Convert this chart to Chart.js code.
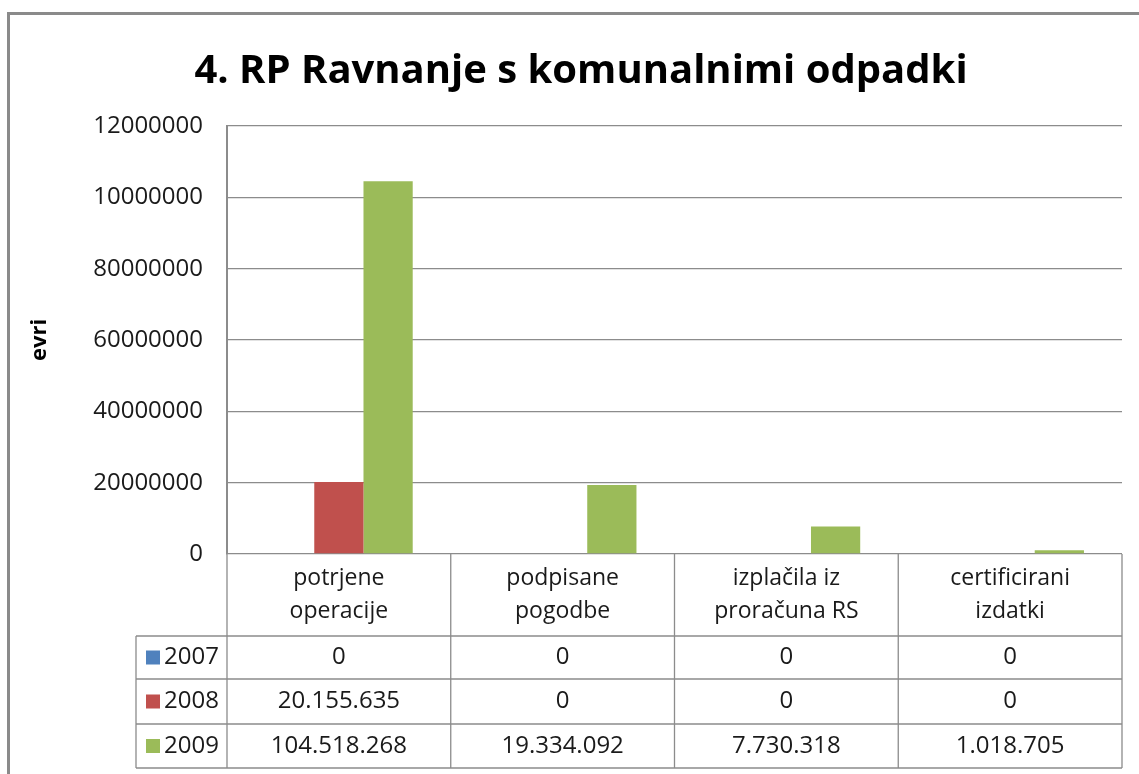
<!DOCTYPE html>
<html>
<head>
<meta charset="utf-8">
<script src="https://cdn.jsdelivr.net/npm/chart.js@4.4.1/dist/chart.umd.min.js"></script>
<style>
  body { margin: 0; background: #fff; }
  #wrap { width: 1139px; height: 774px; }
</style>
</head>
<body>
<div id="wrap"><canvas id="odpadkiChart" width="1139" height="774"></canvas></div>
<script>
// podatki
const chartTitle = '4. RP Ravnanje s komunalnimi odpadki';
const categories = [
    ['potrjene', 'operacije'],
    ['podpisane', 'pogodbe'],
    ['izplačila iz', 'proračuna RS'],
    ['certificirani', 'izdatki']
];
const years = ['2007', '2008', '2009'];
const values2007 = [0, 0, 0, 0];
const values2008 = [20155635, 0, 0, 0];
const values2009 = [104518268, 19334092, 7730318, 1018705];
const yTickLabels = ['0', '20000000', '40000000', '60000000', '80000000', '10000000', '12000000'];
const seriesColors = ['#4F81BD', '#C0504D', '#9BBB59'];

const FONT = '"Open Sans", "Liberation Sans", sans-serif';
const LINE = '#8c8c8c';

function formatNumber(v) {
    return String(v).replace(/\B(?=(\d{3})+(?!\d))/g, '.');
}

// okvir, naslov in podatkovna tabela
const tablePlugin = {
    id: 'dataTable',
    beforeDraw(chart) {
        const ctx = chart.ctx;
        ctx.save();
        ctx.fillStyle = '#fff';
        ctx.fillRect(0, 0, chart.width, chart.height);
        ctx.strokeStyle = '#8a8a8a';
        ctx.lineWidth = 3;
        ctx.strokeRect(8.5, 13.5, 2000, 2000);
        ctx.restore();
    },
    afterDraw(chart) {
        const { ctx, chartArea } = chart;
        const left = chartArea.left, right = chartArea.right, top = chartArea.bottom;
        const colW = (right - left) / categories.length;
        const headLeft = 136;
        const rowY = [top, top + 82, top + 125, top + 170, top + 214];
        const allSeries = [values2007, values2008, values2009];

        ctx.save();
        ctx.strokeStyle = LINE;
        ctx.lineWidth = 1.3;
        ctx.beginPath();
        // vodoravne črte
        for (let r = 1; r < rowY.length; r++) {
            ctx.moveTo(headLeft, rowY[r]);
            ctx.lineTo(right, rowY[r]);
        }
        // navpične črte
        for (let c = 0; c <= categories.length; c++) {
            const x = left + c * colW;
            ctx.moveTo(x, top);
            ctx.lineTo(x, rowY[rowY.length - 1]);
        }
        ctx.moveTo(headLeft, rowY[1]);
        ctx.lineTo(headLeft, rowY[rowY.length - 1]);
        ctx.stroke();

        ctx.fillStyle = '#1a1a1a';
        ctx.font = '23px ' + FONT;
        ctx.textAlign = 'center';
        ctx.textBaseline = 'middle';
        categories.forEach((lines, c) => {
            const cx = left + (c + 0.5) * colW;
            lines.forEach((t, k) => ctx.fillText(t, cx, top + 24 + k * 33));
        });

        ctx.font = '24px ' + FONT;
        allSeries.forEach((vals, r) => {
            const cy = (rowY[r + 1] + rowY[r + 2]) / 2;
            ctx.fillStyle = seriesColors[r];
            ctx.fillRect(146, cy - 7, 14, 14);
            ctx.fillStyle = '#1a1a1a';
            ctx.textAlign = 'left';
            ctx.fillText(years[r], 164, cy);
            ctx.textAlign = 'center';
            vals.forEach((v, c) => {
                ctx.fillText(formatNumber(v), left + (c + 0.5) * colW, cy);
            });
        });

        ctx.font = 'bold 40px ' + FONT;
        ctx.fillStyle = '#000';
        ctx.textBaseline = 'alphabetic';
        ctx.fillText(chartTitle, 581, 83);
        ctx.restore();
    }
};

const ctx = document.getElementById('odpadkiChart').getContext('2d');
const odpadkiChart = new Chart(ctx, {
    type: 'bar',
    data: {
        labels: categories,
        datasets: [
            { label: years[0], data: values2007, backgroundColor: seriesColors[0] },
            { label: years[1], data: values2008, backgroundColor: seriesColors[1] },
            { label: years[2], data: values2009, backgroundColor: seriesColors[2] }
        ]
    },
    options: {
        responsive: false,
        animation: false,
        layout: { padding: { top: 126, right: 17, bottom: 0, left: 0 } },
        datasets: {
            bar: { categoryPercentage: 0.66, barPercentage: 1 }
        },
        scales: {
            x: {
                ticks: { display: false },
                grid: { display: false },
                border: { display: false },
                afterFit: function(scale) { scale.height = 220; }
            },
            y: {
                min: 0,
                max: 120000000,
                ticks: {
                    stepSize: 20000000,
                    padding: 24,
                    color: '#1a1a1a',
                    font: { family: FONT, size: 24 },
                    callback: function(value, index) {
                        return yTickLabels[index];
                    }
                },
                grid: { color: LINE, lineWidth: 1.3, tickLength: 0 },
                border: { color: LINE, width: 2 },
                title: {
                    display: true,
                    text: 'evri',
                    color: '#000',
                    font: { family: FONT, size: 22, weight: 'bold' },
                    padding: { top: 27, bottom: 0 }
                },
                afterFit: function(scale) { scale.width = 227; }
            }
        },
        plugins: {
            legend: { display: false },
            title: { display: false },
            tooltip: { enabled: false }
        }
    },
    plugins: [tablePlugin]
});
</script>
</body>
</html>
